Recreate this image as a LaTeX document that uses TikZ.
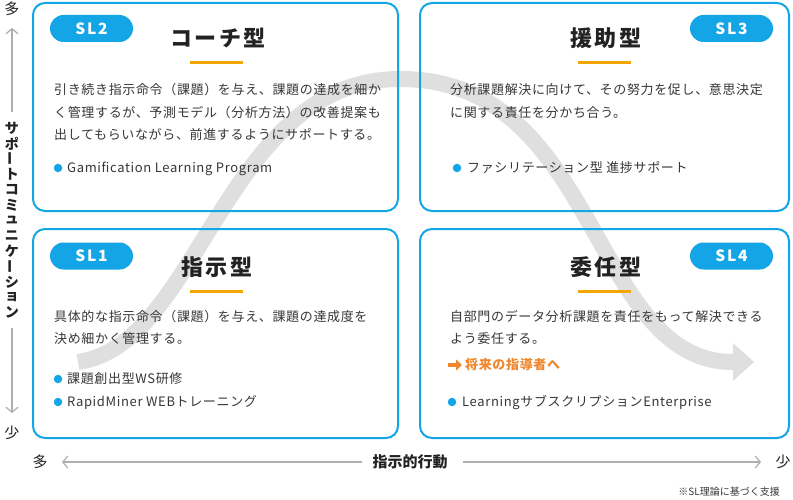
\documentclass[tikz,border=0pt]{standalone}
\usepackage{fontspec}
\usepackage{graphicx}
\usetikzlibrary{arrows.meta}
\setmainfont{Noto Sans CJK JP}
\newfontfamily\jp{Noto Sans CJK JP}[LetterSpace=5]
\newfontfamily\jptitle{Noto Sans CJK JP}[LetterSpace=10]
\newfontfamily\jpsl{Noto Sans CJK JP}[LetterSpace=12]
\newfontfamily\jpax{Noto Sans CJK JP}
\definecolor{sblue}{RGB}{20,165,230}
\definecolor{uorange}{RGB}{242,166,0}
\definecolor{torange}{RGB}{240,135,45}
\definecolor{bandc}{RGB}{223,223,223}
\definecolor{axgray}{RGB}{175,175,175}
\definecolor{txt}{RGB}{55,55,55}
\definecolor{ttl}{RGB}{34,34,34}
\newcommand\vchoon{\rotatebox[origin=c]{90}{ー}}
\tikzset{
  box/.style={draw=sblue, line width=2pt, rounded corners=12pt},
  pill/.style={fill=sblue, rounded corners=13.5pt, minimum width=83pt, minimum height=27pt,
    inner sep=0pt, text=white, font=\jpsl\bfseries\fontsize{15.5}{15.5}\selectfont},
  title/.style={inner sep=0pt, text=ttl, font=\jptitle\bfseries\fontsize{22}{22}\selectfont},
  uline/.style={draw=uorange, line width=3pt},
  body/.style={anchor=west, inner sep=0pt, text=txt, text height=11.4pt, text depth=1.6pt,
    font=\jp\fontsize{13}{13}\selectfont},
  dot/.style={circle, fill=sblue, inner sep=0pt, minimum size=8.5pt},
  band/.style={draw=bandc, line width=16pt},
  axis/.style={draw=axgray, line width=1.2pt, -{Straight Barb[length=5pt,width=12pt,line width=1.2pt]}},
  axlab/.style={inner sep=0pt, text=ttl, font=\jpax\bfseries\fontsize{14}{14}\selectfont},
  axend/.style={inner sep=0pt, text=ttl, font=\jpax\fontsize{15}{15}\selectfont},
  fatarrow/.style={draw=torange, line width=3.5pt, -{Triangle[length=6pt,width=11pt]}},
}
\begin{document}
\begin{tikzpicture}[x=1pt,y=-1pt]
\useasboundingbox[fill=white] (0,0) rectangle (793,500);

% big grey S-arrow
\draw[band] (78,362) .. controls (200,345) and (225,79) .. (400,79)
            .. controls (600,79) and (590,362) .. (733,362);
\fill[bandc] (733,343) -- (754,362) -- (733,381) -- cycle;

% boxes
\draw[box] (33,3) rectangle (398,211);
\draw[box] (420,3) rectangle (789,211);
\draw[box] (33,229) rectangle (398,438);
\draw[box] (420,229) rectangle (789,438);

% pills
\node[pill] (p2) at (91.5,28.5) {SL2};
\node[pill] (p3) at (731.5,28.5) {SL3};
\node[pill] (p1) at (91.5,256) {SL1};
\node[pill] (p4) at (731.5,256) {SL4};

% titles
\node[title] (t2) at (218,38) {コーチ型};
\node[title] (t3) at (606,38) {援助型};
\node[title] (t1) at (217,267) {指示型};
\node[title] (t4) at (606,267) {委任型};
\draw[uline] (190,63) -- (243,63);
\draw[uline] (578,63) -- (631,63);
\draw[uline] (190,291) -- (243,291);
\draw[uline] (578,291) -- (631,291);

% SL2 text
\node[body] (a1) at (54,90) {引き続き指示命令（課題）を与え、課題の達成を細か};
\node[body] (a2) at (54,113) {く管理するが、予測モデル（分析方法）の改善提案も};
\node[body] (a3) at (54,135) {出してもらいながら、前進するようにサポートする。};
\node[dot] (ad) at (58,168) {};
\node[body] (ab) at (67,168) {Gamification Learning Program};

% SL3 text
\node[body] (b1) at (450,90) {分析課題解決に向けて、その努力を促し、意思決定};
\node[body] (b2) at (450,113) {に関する責任を分かち合う。};
\node[dot] (bd) at (457,168) {};
\node[body] (bb) at (467,168) {ファシリテーション型 進捗サポート};

% SL1 text
\node[body] (c1) at (54,317) {具体的な指示命令（課題）を与え、課題の達成度を};
\node[body] (c2) at (54,339) {決め細かく管理する。};
\node[dot] (cd1) at (58,379) {};
\node[body] (cb1) at (67,379) {課題創出型WS研修};
\node[dot] (cd2) at (58,402) {};
\node[body] (cb2) at (67,402) {RapidMiner WEBトレーニング};

% SL4 text
\node[body] (d1) at (450,317) {自部門のデータ分析課題を責任をもって解決できる};
\node[body] (d2) at (450,339) {よう委任する。};
\coordinate (fa0) at (448,365);
\node[body, text=torange, font=\jp\bfseries\fontsize{13}{13}\selectfont] (d3) at (465,365) {将来の指導者へ};
\draw[fatarrow] (fa0) -- (d3.west -| 462,0);
\node[dot] (dd) at (452,402) {};
\node[body] (db) at (462,402) {LearningサブスクリプションEnterprise};

% vertical axis
\node[axend] (vmore) at (12,9) {多};
\node[axend] (vless) at (12,433) {少};
\coordinate (vtop) at (12,28);
\coordinate (vtopstart) at (12,112);
\coordinate (vbot) at (12,413);
\coordinate (vbotstart) at (12,328);
\draw[axis] (vtopstart) -- (vtop);
\draw[axis] (vbotstart) -- (vbot);
\foreach \c [count=\i from 0] in {サ,ポ,\vchoon,ト,コ,ミ,ュ,ニ,ケ,\vchoon,シ,ョ,ン}
  \node[axlab] (v\i) at (12,{128+15.4*\i}) {\c};

% horizontal axis
\node[axend] (hmore) at (40,462) {多};
\node[axend] (hless) at (783,462) {少};
\node[axlab, font=\jpax\bfseries\fontsize{15}{15}\selectfont] (hlab) at (410,462) {指示的行動};
\coordinate (hl1) at (362,462);
\coordinate (hl0) at (62,462);
\coordinate (hr1) at (463,462);
\coordinate (hr0) at (761,462);
\draw[axis] (hl1) -- (hl0);
\draw[axis] (hr1) -- (hr0);

\node[inner sep=0pt, anchor=east, text=txt, font=\jpax\fontsize{10}{10}\selectfont] (note) at (780,492) {※SL理論に基づく支援};
\end{tikzpicture}
\end{document}
